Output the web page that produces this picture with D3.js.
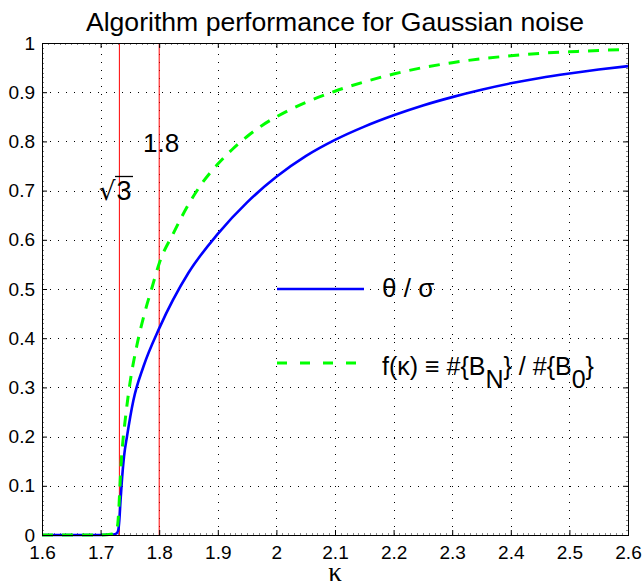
<!DOCTYPE html>
<html><head><meta charset="utf-8">
<script src="https://cdn.jsdelivr.net/npm/d3@7"></script>
<style>body{margin:0;background:#fff}svg{display:block}</style>
</head><body>
<script>
// ---- data ----
const titleText = "Algorithm performance for Gaussian noise";
const xLabelText = "κ";
const xTicks = [1.6,1.7,1.8,1.9,2.0,2.1,2.2,2.3,2.4,2.5,2.6];
const xTickLabels = ["1.6","1.7","1.8","1.9","2","2.1","2.2","2.3","2.4","2.5","2.6"];
const yTicks = [0,0.1,0.2,0.3,0.4,0.5,0.6,0.7,0.8,0.9,1];
const yTickLabels = ["0","0.1","0.2","0.3","0.4","0.5","0.6","0.7","0.8","0.9","1"];
// theta / sigma (blue solid)
const kTheta = [1.6,1.70,1.722,1.727,1.730,1.732,1.734,1.736,1.740,1.745,1.756,1.773,1.80,1.85,1.90,1.95,2.0,2.05,2.1,2.15,2.2,2.25,2.3,2.35,2.4,2.45,2.5,2.55,2.6];
const vTheta = [0,0,0.001,0.003,0.009,0.03,0.07,0.105,0.16,0.20,0.274,0.342,0.42,0.533,0.612,0.676,0.728,0.770,0.803,0.830,0.853,0.873,0.890,0.905,0.918,0.929,0.938,0.946,0.953];
// f(kappa) (green dashed)
const kF = [1.6,1.70,1.720,1.726,1.729,1.731,1.733,1.735,1.738,1.742,1.75,1.7615,1.776,1.787,1.80,1.825,1.85,1.875,1.90,1.925,1.95,1.975,2.0,2.05,2.1,2.15,2.2,2.25,2.3,2.35,2.4,2.45,2.5,2.55,2.6];
const vF = [0,0,0.002,0.008,0.02,0.05,0.10,0.145,0.19,0.234,0.308,0.383,0.455,0.500,0.552,0.615,0.672,0.718,0.754,0.784,0.810,0.832,0.850,0.879,0.902,0.921,0.937,0.950,0.960,0.968,0.974,0.979,0.982,0.985,0.987];
const markerX = [Math.sqrt(3), 1.8];
const markerLabels = ["3", "1.8"];
const seriesNames = ["θ / σ", "f(κ) ≡ #{B", "N", "} / #{B", "0", "}"];

// ---- layout ----
const W = 642, H = 586;
const L = 42, R = 628, T = 43, B = 535;
const font = "'Liberation Sans', Arial, Helvetica, sans-serif";
const svg = d3.select("body").append("svg").attr("width", W).attr("height", H)
  .style("font-family", font);
const x = d3.scaleLinear().domain([1.6, 2.6]).range([L, R]);
const y = d3.scaleLinear().domain([0, 1]).range([B, T]);

// grid
const grid = svg.append("g").attr("stroke", "#000").attr("stroke-width", 1)
  .attr("stroke-dasharray", "1,7");
xTicks.slice(1, -1).forEach(v => grid.append("line")
  .attr("x1", Math.round(x(v)) + 0.5).attr("x2", Math.round(x(v)) + 0.5)
  .attr("y1", B).attr("y2", T));
yTicks.slice(1, -1).forEach(v => grid.append("line")
  .attr("y1", Math.round(y(v)) + 0.5).attr("y2", Math.round(y(v)) + 0.5)
  .attr("x1", L).attr("x2", R));

// minor ticks
const minor = svg.append("g").attr("stroke", "#888").attr("stroke-width", 1);
d3.range(1.61, 2.6, 0.01).forEach(v => {
  const px = Math.round(x(v)) + 0.5;
  minor.append("line").attr("x1", px).attr("x2", px).attr("y1", B).attr("y2", B - 2);
  minor.append("line").attr("x1", px).attr("x2", px).attr("y1", T).attr("y2", T + 2);
});
d3.range(0.01, 1, 0.01).forEach(v => {
  const py = Math.round(y(v)) + 0.5;
  minor.append("line").attr("y1", py).attr("y2", py).attr("x1", L).attr("x2", L + 2);
  minor.append("line").attr("y1", py).attr("y2", py).attr("x1", R).attr("x2", R - 2);
});

// marker lines
svg.append("g").selectAll("line").data(markerX).join("line")
  .attr("x1", d => x(d)).attr("x2", d => x(d))
  .attr("y1", T).attr("y2", B)
  .attr("stroke", "#ff0000").attr("stroke-width", 1);

// curves
svg.append("clipPath").attr("id", "clip").append("rect")
  .attr("x", L).attr("y", T - 3).attr("width", R - L).attr("height", B - T + 5);
const line = d3.line().x(d => x(d[0])).y(d => y(d[1])).curve(d3.curveMonotoneX);
const g = svg.append("g").attr("clip-path", "url(#clip)");
g.append("path").datum(kTheta.map((k, i) => [k, vTheta[i]]))
  .attr("d", line).attr("fill", "none").attr("stroke", "#0000ff").attr("stroke-width", 2.6);
g.append("path").datum(kF.map((k, i) => [k, vF[i]]))
  .attr("d", line).attr("fill", "none").attr("stroke", "#00ff00").attr("stroke-width", 3)
  .attr("stroke-dasharray", "11,9");

// axes
function styleAxis(sel) {
  sel.select(".domain").remove();
  sel.selectAll(".tick line").attr("stroke", "#000");
  sel.selectAll("text").attr("fill", "#000").style("font-size", "19px").style("font-family", font);
}
svg.append("g").attr("transform", `translate(0,${B})`)
  .call(d3.axisBottom(x).tickValues(xTicks).tickFormat((d, i) => xTickLabels[i])
    .tickSizeInner(-5).tickSizeOuter(0).tickPadding(11)).call(styleAxis);
svg.append("g").attr("transform", `translate(0,${T})`)
  .call(d3.axisTop(x).tickValues(xTicks).tickFormat("")
    .tickSizeInner(-5).tickSizeOuter(0)).call(styleAxis);
svg.append("g").attr("transform", `translate(${L},0)`)
  .call(d3.axisLeft(y).tickValues(yTicks).tickFormat((d, i) => yTickLabels[i])
    .tickSizeInner(-5).tickSizeOuter(0).tickPadding(7)).call(styleAxis);
svg.append("g").attr("transform", `translate(${R},0)`)
  .call(d3.axisRight(y).tickValues(yTicks).tickFormat("")
    .tickSizeInner(-5).tickSizeOuter(0)).call(styleAxis);

// frame
svg.append("rect").attr("x", L + 0.5).attr("y", T + 0.5)
  .attr("width", R - L).attr("height", B - T)
  .attr("fill", "none").attr("stroke", "#000").attr("stroke-width", 1);

// title & axis label
svg.append("text").attr("x", (L + R) / 2).attr("y", 31).attr("text-anchor", "middle")
  .style("font-size", "26.6px").text(titleText);
svg.append("text").attr("x", (L + R) / 2).attr("y", 581).attr("text-anchor", "middle")
  .style("font-size", "27px").style("font-family", "'Liberation Serif', 'Times New Roman', serif")
  .text(xLabelText);

// annotations
svg.append("text").attr("x", 143).attr("y", 152).style("font-size", "26px").text(markerLabels[1]);
const sq = svg.append("text").attr("x", 99).attr("y", 200).style("font-size", "26px");
sq.append("tspan").style("font-family", "'DejaVu Sans', sans-serif").text("√");
sq.append("tspan").attr("x", 116.5).style("font-size", "27px").text(markerLabels[0]);
svg.append("line").attr("x1", 115).attr("x2", 133).attr("y1", 176.5).attr("y2", 176.5)
  .attr("stroke", "#000").attr("stroke-width", 1.3);

// legend
const lx1 = 277, lx2 = 364, tx = 382;
svg.append("line").attr("x1", lx1).attr("x2", lx2).attr("y1", 289).attr("y2", 289)
  .attr("stroke", "#0000ff").attr("stroke-width", 2.6);
svg.append("text").attr("x", tx).attr("y", 297).style("font-size", "26px").text(seriesNames[0]);
svg.append("line").attr("x1", lx1).attr("x2", lx2 - 4).attr("y1", 363).attr("y2", 363)
  .attr("stroke", "#00ff00").attr("stroke-width", 3).attr("stroke-dasharray", "10,13");
const ft = svg.append("text").attr("x", tx).attr("y", 375).style("font-size", "25px");
ft.append("tspan").text(seriesNames[1]);
ft.append("tspan").attr("dy", 13).text(seriesNames[2]);
ft.append("tspan").attr("dy", -13).text(seriesNames[3]);
ft.append("tspan").attr("dy", 13).text(seriesNames[4]);
ft.append("tspan").attr("dy", -13).text(seriesNames[5]);
</script>
</body></html>
